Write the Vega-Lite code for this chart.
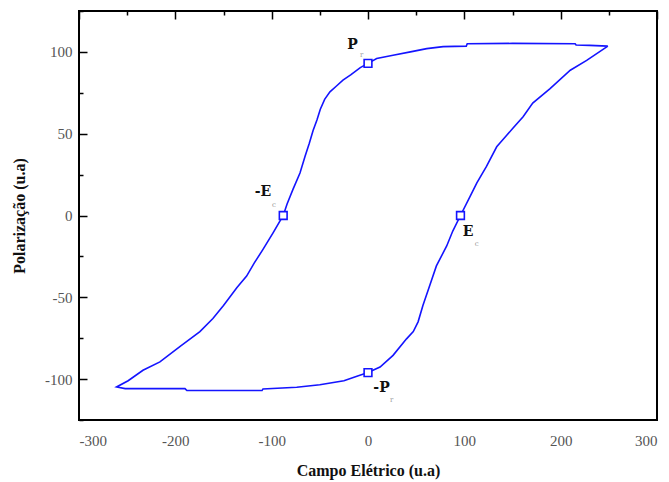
{
  "$schema": "https://vega.github.io/schema/vega-lite/v6.json",
  "width": 578,
  "height": 409,
  "autosize": {"type": "none"},
  "padding": {"left": 79, "top": 11, "right": 12, "bottom": 62},
  "background": "white",
  "config": {
    "view": {"stroke": "black", "strokeWidth": 2},
    "axis": {
      "labelFont": "Liberation Serif",
      "labelFontSize": 15,
      "labelColor": "#555",
      "titleFont": "Liberation Serif",
      "titleFontSize": 16,
      "titleFontWeight": "bold",
      "titleColor": "#111",
      "ticks": false,
      "tickSize": 0,
      "domain": false,
      "grid": true,
      "gridColor": "black",
      "gridWidth": 1.5,
      "gridOpacity": 1
    }
  },
  "datasets": {
    "loop": [
      {"i": 0, "E": 249, "P": 103.5},
      {"i": 1, "E": 230, "P": 104},
      {"i": 2, "E": 216, "P": 104.2},
      {"i": 3, "E": 215, "P": 105},
      {"i": 4, "E": 150, "P": 105.2},
      {"i": 5, "E": 103, "P": 105},
      {"i": 6, "E": 102, "P": 103.5},
      {"i": 7, "E": 78, "P": 103.2},
      {"i": 8, "E": 61, "P": 102},
      {"i": 9, "E": 44, "P": 100},
      {"i": 10, "E": 26, "P": 98},
      {"i": 11, "E": 9, "P": 96},
      {"i": 12, "E": 0, "P": 93},
      {"i": 13, "E": -8, "P": 90.4},
      {"i": 14, "E": -18, "P": 86},
      {"i": 15, "E": -26, "P": 82.7},
      {"i": 16, "E": -33, "P": 79},
      {"i": 17, "E": -39.5, "P": 75.6},
      {"i": 18, "E": -45, "P": 71},
      {"i": 19, "E": -49.5, "P": 65},
      {"i": 20, "E": -53, "P": 58.4},
      {"i": 21, "E": -57, "P": 52},
      {"i": 22, "E": -61, "P": 44},
      {"i": 23, "E": -65.4, "P": 36},
      {"i": 24, "E": -70.6, "P": 26},
      {"i": 25, "E": -78, "P": 15.8},
      {"i": 26, "E": -84, "P": 7},
      {"i": 27, "E": -88, "P": 0},
      {"i": 28, "E": -98.4, "P": -10.5},
      {"i": 29, "E": -109, "P": -20.7},
      {"i": 30, "E": -118, "P": -29},
      {"i": 31, "E": -126, "P": -37},
      {"i": 32, "E": -136, "P": -44},
      {"i": 33, "E": -150, "P": -55},
      {"i": 34, "E": -161, "P": -63},
      {"i": 35, "E": -174.5, "P": -71},
      {"i": 36, "E": -195, "P": -80},
      {"i": 37, "E": -216, "P": -89.5},
      {"i": 38, "E": -233.6, "P": -94.6},
      {"i": 39, "E": -249, "P": -101},
      {"i": 40, "E": -261, "P": -104.8},
      {"i": 41, "E": -252, "P": -105.8},
      {"i": 42, "E": -190, "P": -105.8},
      {"i": 43, "E": -188, "P": -107},
      {"i": 44, "E": -110, "P": -107},
      {"i": 45, "E": -109, "P": -106},
      {"i": 46, "E": -74, "P": -105},
      {"i": 47, "E": -50, "P": -103.5},
      {"i": 48, "E": -25, "P": -101},
      {"i": 49, "E": -10, "P": -98},
      {"i": 50, "E": 0, "P": -96},
      {"i": 51, "E": 12.5, "P": -92.6},
      {"i": 52, "E": 26, "P": -85.5},
      {"i": 53, "E": 40, "P": -75.4},
      {"i": 54, "E": 47, "P": -71},
      {"i": 55, "E": 52, "P": -65},
      {"i": 56, "E": 57, "P": -55},
      {"i": 57, "E": 64, "P": -43},
      {"i": 58, "E": 71, "P": -30.8},
      {"i": 59, "E": 81.7, "P": -18.6},
      {"i": 60, "E": 88, "P": -9.5},
      {"i": 61, "E": 96, "P": 0},
      {"i": 62, "E": 106, "P": 11.7},
      {"i": 63, "E": 113, "P": 19.9},
      {"i": 64, "E": 123, "P": 30},
      {"i": 65, "E": 133.6, "P": 42},
      {"i": 66, "E": 144, "P": 49},
      {"i": 67, "E": 150.6, "P": 53.5},
      {"i": 68, "E": 161, "P": 60.4},
      {"i": 69, "E": 171, "P": 68.7},
      {"i": 70, "E": 189, "P": 77.6},
      {"i": 71, "E": 210, "P": 88.8},
      {"i": 72, "E": 227, "P": 94.8},
      {"i": 73, "E": 249, "P": 103.5}
    ],
    "points": [
      {"E": 0, "P": 93},
      {"E": -88, "P": 0},
      {"E": 96, "P": 0},
      {"E": 0, "P": -96}
    ],
    "labels": [
      {"E": -16.1, "P": 104, "main": "P", "sE": -6.5, "sP": 98.3, "sub": "r"},
      {"E": -109, "P": 14.3, "main": "-E", "sE": -97.6, "sP": 6.7, "sub": "c"},
      {"E": 103.8, "P": -10, "main": "E", "sE": 112.9, "sP": -17.6, "sub": "c"},
      {"E": 14, "P": -105.2, "main": "-P", "sE": 24.6, "sP": -112.9, "sub": "r"}
    ]
  },
  "layer": [
    {
      "mark": {"type": "rule", "color": "black", "strokeWidth": 1.5},
      "encoding": {"y": {"datum": 0, "type": "quantitative"}}
    },
    {
      "mark": {"type": "rule", "color": "black", "strokeWidth": 1.5},
      "encoding": {"x": {"datum": 0, "type": "quantitative"}}
    },
    {
      "data": {"name": "loop"},
      "mark": {"type": "line", "color": "#1414ff", "strokeWidth": 1.6},
      "encoding": {
        "x": {
          "field": "E", "type": "quantitative",
          "scale": {"domain": [-300, 300], "nice": false, "zero": false},
          "axis": {
            "title": "Campo Elétrico (u.a)",
            "values": [-300, -250, -200, -150, -100, -50, 0, 50, 100, 150, 200, 250, 300],
            "labelExpr": "datum.value % 100 === 0 ? '' + datum.value : ''",
            "gridDash": {"condition": {"test": "datum.value % 100 === 0", "value": [8, 2000]}, "value": [4, 2000]},
            "labelPadding": 13,
            "titlePadding": 14
          }
        },
        "y": {
          "field": "P", "type": "quantitative",
          "scale": {"domain": [-125, 125], "nice": false, "zero": false},
          "axis": {
            "title": "Polarização (u.a)",
            "values": [-125, -100, -75, -50, -25, 0, 25, 50, 75, 100, 125],
            "labelExpr": "datum.value % 50 === 0 && abs(datum.value) < 125 ? '' + datum.value : ''",
            "gridDash": {"condition": {"test": "datum.value % 50 === 0", "value": [8, 2000]}, "value": [4, 2000]},
            "labelPadding": 7,
            "titlePadding": 17
          }
        },
        "order": {"field": "i", "type": "quantitative"}
      }
    },
    {
      "data": {"name": "points"},
      "mark": {"type": "point", "shape": "square", "filled": true, "fill": "white", "stroke": "#1414ff", "strokeWidth": 1.6, "size": 60, "opacity": 1},
      "encoding": {
        "x": {"field": "E", "type": "quantitative"},
        "y": {"field": "P", "type": "quantitative"}
      }
    },
    {
      "data": {"name": "labels"},
      "mark": {"type": "text", "font": "DejaVu Serif", "fontWeight": "bold", "fontSize": 14, "color": "#111", "align": "center", "baseline": "middle"},
      "encoding": {
        "x": {"field": "E", "type": "quantitative"},
        "y": {"field": "P", "type": "quantitative"},
        "text": {"field": "main"}
      }
    },
    {
      "data": {"name": "labels"},
      "mark": {"type": "text", "font": "DejaVu Serif", "fontSize": 7, "color": "#999", "align": "center", "baseline": "middle"},
      "encoding": {
        "x": {"field": "sE", "type": "quantitative"},
        "y": {"field": "sP", "type": "quantitative"},
        "text": {"field": "sub"}
      }
    }
  ]
}
